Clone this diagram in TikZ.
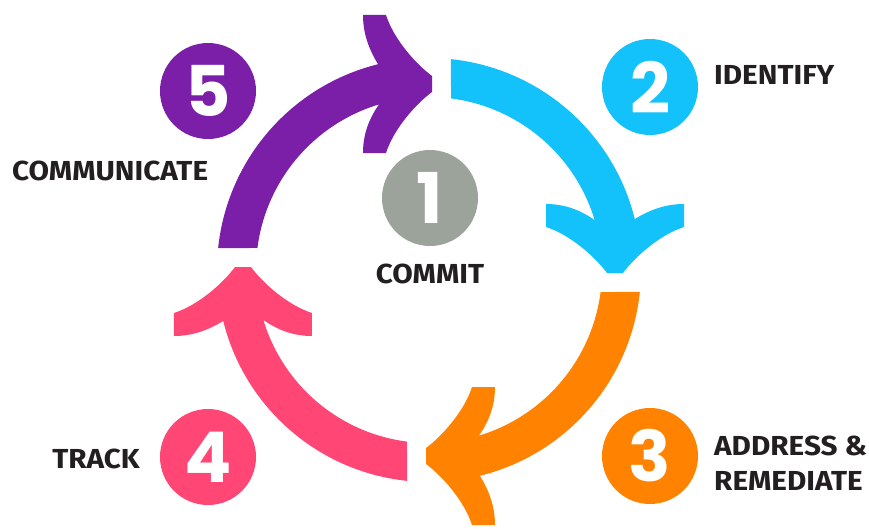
\documentclass[tikz,border=0pt]{standalone}
\usepackage{fontspec}
\setmainfont{Fira Sans}[FakeStretch=1.08]
\newfontfamily\numfont{Poppins}
\usetikzlibrary{positioning}

\definecolor{cyclepurple}{HTML}{7B1FA8}
\definecolor{cyclecyan}{HTML}{13C2FB}
\definecolor{cycleorange}{HTML}{FF8300}
\definecolor{cyclepink}{HTML}{FF4674}
\definecolor{cyclegray}{HTML}{9CA39A}
\definecolor{labeltext}{HTML}{231F20}

% one quarter arrow of the cycle, turned by #1
\newcommand{\cyclearrow}[2]{%
  \begin{scope}[rotate=#1]
    \fill[#2]
      (84.05:212) arc[start angle=84.05, end angle=13.9, radius=212]
      .. controls (222,61) and (238,66) .. (255,66)
      -- (255,43)
      .. controls (230,35) and (205,12) .. (194,-3)
      -- (178,-3)
      .. controls (167,12) and (142,35) .. (117,43)
      -- (117,66)
      .. controls (134,66) and (150,61) .. (16.76:173)
      arc[start angle=16.76, end angle=82.69, radius=173]
      -- cycle;
  \end{scope}}

\begin{document}
\begin{tikzpicture}[x=1pt,y=1pt]
        \tikzset{
          stepnum/.style={
            circle,
            fill=#1,
            text=white,
            minimum size=96pt,
            inner sep=0pt,
            font=\numfont\bfseries\fontsize{70}{70}\selectfont,
          },
          steplabel/.style={
            text=labeltext,
            inner sep=0pt,
            align=left,
            font=\bfseries\fontsize{27.5}{35}\selectfont,
          },
        }
        \useasboundingbox (-429,-258) rectangle (440,270);

        \cyclearrow{0}{cyclecyan}
        \cyclearrow{90}{cyclepurple}
        \cyclearrow{180}{cyclepink}
        \cyclearrow{-90}{cycleorange}

        \node[stepnum=cyclegray] (n1) at (1,72) {1};
        \node[stepnum=cyclecyan] (n2) at (221,183) {2};
        \node[stepnum=cycleorange] (n3) at (221,-186) {3};
        \node[stepnum=cyclepink] (n4) at (-221,-187) {4};
        \node[stepnum=cyclepurple] (n5) at (-221,179) {5};

        \node[steplabel, anchor=base] (commit) at (1,-13) {COMMIT};
        \node[steplabel, anchor=base west] (identify) at (285,186) {IDENTIFY};
        \node[steplabel, anchor=base west] (address) at (285,-220) {ADDRESS \&\\REMEDIATE};
        \node[steplabel, anchor=base east] (track) at (-289,-198) {TRACK};
        \node[steplabel, anchor=base west] (communicate) at (-417,90) {COMMUNICATE};
\end{tikzpicture}
\end{document}
